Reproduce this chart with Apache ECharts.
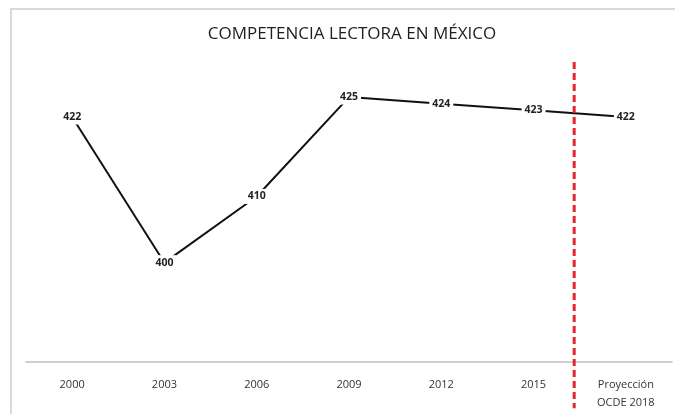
<!DOCTYPE html>
<html>
<head>
<meta charset="utf-8">
<script src="https://cdn.jsdelivr.net/npm/echarts@6/dist/echarts.min.js"></script>
<style>
  html, body { margin: 0; padding: 0; background: #fff; }
  #frame { position: absolute; left: 10px; top: 8px; width: 700px; height: 440px;
           border-top: 2px solid #d9d9d9; border-left: 2px solid #d9d9d9; }
  #chart { position: absolute; left: 0; top: 0; width: 675px; height: 414px; }
</style>
</head>
<body>
<div id="frame"></div>
<div id="chart"></div>
<script>
// Reading scores (PISA) for Mexico, with the OECD projection for 2018
const categories = ['2000', '2003', '2006', '2009', '2012', '2015', 'Proyección\nOCDE 2018'];
const scores = [422, 400, 410, 425, 424, 423, 422];
const yRange = [385, 430];

const chart = echarts.init(document.getElementById('chart'), null, { renderer: 'canvas' });
const font = '"Open Sans", "Noto Sans", sans-serif';

chart.setOption({
  animation: false,
  backgroundColor: 'transparent',
  title: {
    text: 'COMPETENCIA LECTORA EN MÉXICO',
    left: 347,
    top: 21,
    textAlign: 'center',
    textStyle: { fontFamily: font, fontSize: 17, fontWeight: 'normal', color: '#1f1f1f' }
  },
  grid: { left: 26, right: 3, top: 64, bottom: 52 },
  xAxis: {
    type: 'category',
    data: categories,
    boundaryGap: true,
    axisLine: { lineStyle: { color: '#bfbfbf', width: 1.5 } },
    axisTick: { show: false },
    axisLabel: { fontFamily: font, fontSize: 11, color: '#333', margin: 14, lineHeight: 18 }
  },
  yAxis: {
    type: 'value',
    min: yRange[0],
    max: yRange[1],
    show: false,
    splitLine: { show: false }
  },
  series: [{
    type: 'line',
    data: scores,
    symbol: 'circle',
    symbolSize: 1,
    itemStyle: { color: 'rgba(0,0,0,0)', borderWidth: 0 },
    lineStyle: { color: '#111', width: 2 },
    label: {
      show: true,
      position: 'inside',
      fontFamily: font,
      fontSize: 10.5,
      fontWeight: 'bold',
      color: '#222',
      backgroundColor: '#fff',
      padding: [2, 3]
    },
    z: 3
  }]
});

// Dashed divider between the measured years and the projection
const c5 = chart.convertToPixel({ xAxisIndex: 0 }, categories[5]);
const c6 = chart.convertToPixel({ xAxisIndex: 0 }, categories[6]);
const yTop = chart.convertToPixel({ yAxisIndex: 0 }, yRange[1]);
const yBottom = chart.convertToPixel({ yAxisIndex: 0 }, yRange[0]);
const span = yBottom - yTop;
const xDiv = c5 + (c6 - c5) * 0.44;
chart.setOption({
  graphic: [{
    type: 'line',
    z: 10,
    shape: { x1: xDiv, y1: yTop - span * 0.007, x2: xDiv, y2: yBottom + span * 0.155 },
    style: { stroke: '#e8242b', lineWidth: 3, lineDash: [7, 4] }
  }]
});
</script>
</body>
</html>
